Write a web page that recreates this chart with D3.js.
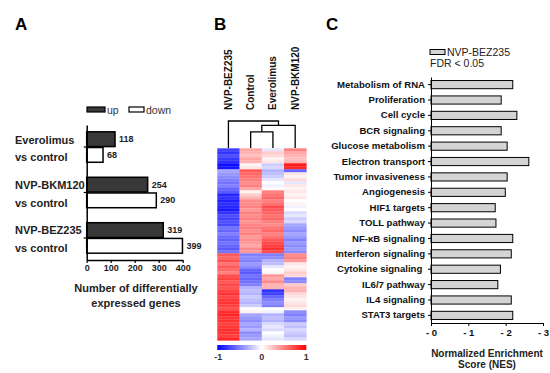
<!DOCTYPE html>
<html>
<head>
<meta charset="utf-8">
<script src="https://cdn.jsdelivr.net/npm/d3@7"></script>
<style>
  body { margin: 0; background: #fff; }
  svg { font-family: "Liberation Sans", Arial, sans-serif; }
  .bold { font-weight: bold; }
</style>
</head>
<body>
<div class="Figure"></div>
<script>
/* ---------- Data ---------- */
// panel A
const groupsA = ["Everolimus", "NVP-BKM120", "NVP-BEZ235"];
const upCounts = [118, 254, 319];
const downCounts = [68, 290, 399];
const ticksA = [0, 100, 200, 300, 400];

// panel B
const heatCols = ["NVP-BEZ235", "Control", "Everolimus", "NVP-BKM120"];
const colBEZ235 = [-0.75, -0.8, -0.7, -0.78, -0.82, -0.95, -0.92, -0.35, -0.4, -0.45,
  -0.5, -0.55, -0.5, -0.6, -0.65, -0.85, -0.8, -0.88, -0.82, -0.85,
  -0.9, -0.8, -0.7, -0.75, -0.68, -0.72, -0.55, -0.6, -0.5, -0.58,
  -0.62, -0.55, -0.6, -0.65, -0.55, 0.65, 0.6, 0.7, 0.55, 0.65,
  0.6, 0.5, 0.7, 0.75, 0.65, 0.72, 0.68, 0.75, 0.8, 0.72,
  0.78, 0.8, 0.75, 0.7, 0.82, 0.85, 0.78, 0.8, 0.75, 0.78,
  0.82, 0.8, 0.75, 0.85];
const colControl = [0.35, 0.3, 0.25, 0.35, 0.3, 0.05, 0.1, 0.65, 0.6, 0.55,
  0.5, 0.45, 0.5, 0.35, 0.05, 0.2, 0.3, 0.45, 0.45, 0.5,
  0.4, 0.5, 0.45, 0.5, 0.42, 0.48, 0.5, 0.45, 0.5, 0.4,
  0.45, 0.4, 0.35, 0.45, 0.4, -0.5, -0.45, -0.5, -0.4, -0.45,
  -0.6, -0.65, -0.55, -0.6, -0.55, -0.5, -0.3, -0.25, -0.3, -0.2,
  -0.25, -0.3, -0.2, 0, 0.05, -0.35, -0.4, -0.45, -0.35, -0.4,
  -0.3, -0.45, -0.4, -0.35];
const colEverolimus = [-0.1, 0.2, 0.15, 0.05, 0.1, -0.2, -0.15, -0.3, -0.25, -0.2,
  -0.1, 0, -0.05, 0, 0.5, 0.55, 0.6, 0.5, 0.55, 0.7,
  0.65, 0.6, 0.55, 0.6, 0.5, 0.45, 0.55, 0.6, 0.5, 0.55,
  0.65, 0.7, 0.75, 0.8, 0.7, -0.5, -0.45, -0.3, -0.25, -0.1,
  0, 0.05, 0.4, 0.35, 0.45, 0.3, 0.3, -0.8, -0.75, -0.6,
  -0.5, -0.45, -0.5, 0, -0.05, -0.3, -0.25, -0.3, -0.15, -0.1,
  -0.15, 0, -0.05, -0.1];
const colBKM120 = [0.5, 0.35, 0.3, 0.25, 0.3, 0.9, 0.85, -0.6, 0.1, 0.05,
  0.15, -0.1, 0.1, 0.05, 0.1, 0.05, 0.1, 0, 0.05, -0.05,
  0, -0.15, -0.1, -0.2, -0.15, -0.35, -0.4, -0.45, -0.35, -0.4,
  -0.5, -0.4, -0.45, -0.4, -0.45, 0.45, 0.5, 0.4, 0.1, 0.05,
  0.1, 0.2, 0.15, -0.5, -0.45, 0.2, 0.3, 0.3, 0.15, 0.1,
  0.05, 0.1, 0.15, 0.05, -0.45, -0.5, -0.4, -0.45, -0.2, -0.25,
  -0.15, -0.2, -0.25, -0.15];
// dendrogram merges (heights relative to top merge)
const merges = [
  { a: "Control", b: "Everolimus", h: 0.6 },
  { a: "m0", b: "NVP-BKM120", h: 0.84 },
  { a: "NVP-BEZ235", b: "m1", h: 1.0 }
];
const colorTicks = [-1, 0, 1];

// panel C
const pathways = ["Metabolism of RNA", "Proliferation", "Cell cycle", "BCR signaling",
  "Glucose metabolism", "Electron transport", "Tumor invasiveness", "Angiogenesis",
  "HIF1 targets", "TOLL pathway", "NF-\u03BAB signaling", "Interferon signaling",
  "Cytokine signaling\u00A0", "IL6/7 pathway", "IL4 signaling", "STAT3 targets"];
const nesValues = [-2.19, -1.88, -2.30, -1.88, -2.04, -2.62, -2.04, -1.99,
  -1.72, -1.74, -2.19, -2.15, -1.86, -1.79, -2.15, -2.19];
const ticksC = [0, -1, -2, -3];

/* ---------- SVG ---------- */
const width = 550, height = 373;
const svg = d3.select(".Figure").append("svg")
  .attr("width", width).attr("height", height);
svg.append("rect").attr("width", width).attr("height", height).attr("fill", "#fff");

// panel letters
[["A", 15], ["B", 214], ["C", 326]].forEach(([t, x]) => {
  svg.append("text").attr("x", x).attr("y", 30)
    .attr("class", "bold").style("font-size", "17px").text(t);
});

/* ---------- Panel A ---------- */
const xA = d3.scaleLinear().domain([0, 400]).range([86.7, 182.7]);
const yA = d3.scaleBand().domain(groupsA).range([125, 260])
  .paddingInner(0.33).paddingOuter(0.15);
const subA = d3.scaleBand().domain(["up", "down"]).range([0, yA.bandwidth()]).paddingInner(0.06);

const dataA = groupsA.map((g, i) => ({ group: g, up: upCounts[i], down: downCounts[i] }));

const gA = svg.append("g");
dataA.forEach(d => {
  ["up", "down"].forEach(k => {
    gA.append("rect")
      .attr("x", xA(0))
      .attr("y", yA(d.group) + subA(k))
      .attr("width", xA(d[k]) - xA(0))
      .attr("height", subA.bandwidth())
      .attr("fill", k === "up" ? "#383838" : "#fff")
      .attr("stroke", "#000").attr("stroke-width", 1.5);
    gA.append("text")
      .attr("x", xA(d[k]) + 4)
      .attr("y", yA(d.group) + subA(k) + subA.bandwidth() / 2)
      .attr("dy", "0.35em")
      .attr("class", "bold").style("font-size", "9px").style("fill", "#222")
      .text(d[k]);
  });
  const cy = yA(d.group) + yA.bandwidth() / 2;
  gA.append("text").attr("x", 15).attr("y", cy - 3.5)
    .attr("class", "bold").style("font-size", "11px").style("fill", "#222").text(d.group);
  gA.append("text").attr("x", 15).attr("y", cy + 14)
    .attr("class", "bold").style("font-size", "11px").style("fill", "#222").text("vs control");
});

// y axis A (ticks at group centres)
const yAxisA = gA.append("g")
  .attr("transform", `translate(${xA(0)},0)`)
  .call(d3.axisLeft(yA).tickSize(3).tickSizeOuter(0).tickFormat(""));
yAxisA.select(".domain").attr("stroke-width", 1.5);
yAxisA.selectAll(".tick line").attr("stroke-width", 1.2);

// x axis A
const xAxisA = gA.append("g")
  .attr("transform", `translate(0,260)`)
  .call(d3.axisBottom(xA).tickValues(ticksA).tickSize(3).tickSizeOuter(0));
xAxisA.select(".domain").attr("stroke-width", 1.5);
xAxisA.selectAll(".tick line").attr("stroke-width", 1.2);
xAxisA.selectAll(".tick text")
  .attr("class", "bold").style("font-size", "9px").style("font-family", "Liberation Sans, Arial, sans-serif")
  .attr("y", 5).style("fill", "#222");

gA.append("text").attr("x", 136).attr("y", 292).attr("text-anchor", "middle")
  .attr("class", "bold").style("font-size", "11px").style("fill", "#222")
  .text("Number of differentially");
gA.append("text").attr("x", 136).attr("y", 307).attr("text-anchor", "middle")
  .attr("class", "bold").style("font-size", "11px").style("fill", "#222")
  .text("expressed genes");

// legend A
const legA = [{ key: "up", fill: "#383838", x: 87 }, { key: "down", fill: "#fff", x: 129 }];
legA.forEach(l => {
  gA.append("rect").attr("x", l.x).attr("y", 107).attr("width", l.key === "up" ? 18 : 15).attr("height", 5)
    .attr("fill", l.fill).attr("stroke", "#000").attr("stroke-width", 1.2);
  gA.append("text").attr("x", l.x + (l.key === "up" ? 20 : 17)).attr("y", 110).attr("dy", "0.35em")
    .style("font-size", "10.5px").style("fill", "#333").text(l.key);
});

/* ---------- Panel B ---------- */
const heatData = [colBEZ235, colControl, colEverolimus, colBKM120];
const nRows = colBEZ235.length;
const xB = d3.scaleBand().domain(heatCols).range([217.3, 306.3]);
const yB = d3.scaleBand().domain(d3.range(nRows)).range([148.3, 340.3]);
const color = d3.scaleLinear().domain([-1, 0, 1]).range(["#0000ff", "#ffffff", "#ff0000"]);

const gB = svg.append("g");
heatCols.forEach((c, j) => {
  gB.selectAll(null)
    .data(heatData[j])
    .enter()
    .append("rect")
    .attr("x", xB(c))
    .attr("y", (d, i) => yB(i))
    .attr("width", xB.bandwidth() + 0.3)
    .attr("height", yB.bandwidth() + 0.3)
    .attr("fill", d => color(d));
});

// column labels
heatCols.forEach(c => {
  const cx = xB(c) + xB.bandwidth() / 2;
  gB.append("text")
    .attr("transform", `translate(${cx},110) rotate(-90)`)
    .attr("dy", "0.35em")
    .attr("class", "bold").style("font-size", "10px").style("fill", "#111")
    .text(c);
});

// dendrogram
const hScale = d3.scaleLinear().domain([0, 1]).range([148, 121]);
const nodes = {};
heatCols.forEach(c => { nodes[c] = { x: xB(c) + xB.bandwidth() / 2, h: 0 }; });
merges.forEach((m, i) => {
  const a = nodes[m.a], b = nodes[m.b];
  const yM = hScale(m.h);
  const path = d3.path();
  path.moveTo(a.x, hScale(a.h));
  path.lineTo(a.x, yM);
  path.lineTo(b.x, yM);
  path.lineTo(b.x, hScale(b.h));
  gB.append("path").attr("d", path.toString())
    .attr("fill", "none").attr("stroke", "#000").attr("stroke-width", 1.3);
  nodes["m" + i] = { x: (a.x + b.x) / 2, h: m.h };
});

// colour bar
const defs = svg.append("defs");
const grad = defs.append("linearGradient").attr("id", "heatGrad");
d3.range(0, 1.0001, 0.1).forEach(t => {
  grad.append("stop").attr("offset", t).attr("stop-color", color(-1 + 2 * t));
});
const xCB = d3.scaleLinear().domain([-1, 1]).range([217.3, 306.3]);
gB.append("rect").attr("x", xCB(-1)).attr("y", 345).attr("width", xCB(1) - xCB(-1)).attr("height", 5)
  .attr("fill", "url(#heatGrad)");
colorTicks.forEach(t => {
  gB.append("text").attr("x", xCB(t) + (t === -1 ? 1 : 0)).attr("y", 360)
    .attr("text-anchor", "middle")
    .attr("class", "bold").style("font-size", "9px").style("fill", "#333")
    .text(t);
});

/* ---------- Panel C ---------- */
const xC = d3.scaleLinear().domain([0, -3]).range([431, 543]);
const yC = d3.scaleBand().domain(pathways).range([77, 323]).paddingInner(0.47).paddingOuter(0.23);
const gC = svg.append("g");

gC.selectAll("rect.nes")
  .data(pathways.map((p, i) => ({ p, v: nesValues[i] })))
  .enter()
  .append("rect")
  .attr("class", "nes")
  .attr("x", xC(0))
  .attr("y", d => yC(d.p))
  .attr("width", d => xC(d.v) - xC(0))
  .attr("height", yC.bandwidth())
  .attr("fill", "#d4d4d4")
  .attr("stroke", "#000").attr("stroke-width", 1);

const yAxisC = gC.append("g")
  .attr("transform", `translate(${xC(0)},0)`)
  .call(d3.axisLeft(yC).tickSize(3).tickSizeOuter(0).tickPadding(3));
yAxisC.selectAll(".tick text")
  .attr("class", "bold").style("font-size", "9.6px").style("fill", "#111")
  .style("font-family", "Liberation Sans, Arial, sans-serif")
  .style("white-space", "pre");

const xAxisC = gC.append("g")
  .attr("transform", `translate(0,323)`)
  .call(d3.axisBottom(xC).tickValues(ticksC).tickSize(3).tickSizeOuter(0)
    .tickFormat(d => "- " + Math.abs(d)));
xAxisC.selectAll(".tick text")
  .attr("class", "bold").style("font-size", "9.6px").style("fill", "#111")
  .style("font-family", "Liberation Sans, Arial, sans-serif").attr("y", 6);

gC.append("text").attr("x", 487).attr("y", 357).attr("text-anchor", "middle")
  .attr("class", "bold").style("font-size", "10px").style("fill", "#222")
  .text("Normalized Enrichment");
gC.append("text").attr("x", 487).attr("y", 368).attr("text-anchor", "middle")
  .attr("class", "bold").style("font-size", "10px").style("fill", "#222")
  .text("Score (NES)");

// legend C
gC.append("rect").attr("x", 430).attr("y", 49.5).attr("width", 15).attr("height", 5)
  .attr("fill", "#d4d4d4").attr("stroke", "#000").attr("stroke-width", 1);
gC.append("text").attr("x", 447).attr("y", 52).attr("dy", "0.35em")
  .style("font-size", "10.5px").style("fill", "#222").text("NVP-BEZ235");
gC.append("text").attr("x", 430).attr("y", 63.5).attr("dy", "0.35em")
  .style("font-size", "10.5px").style("fill", "#222").text("FDR < 0.05");
</script>
</body>
</html>
